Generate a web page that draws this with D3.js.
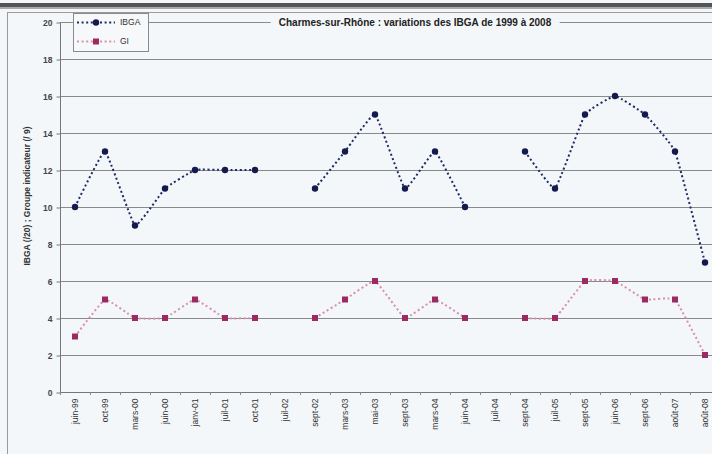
<!DOCTYPE html>
<html><head><meta charset="utf-8">
<script src="https://cdn.jsdelivr.net/npm/d3@7"></script>
<style>html,body{margin:0;padding:0;background:#f4f7f9;overflow:hidden}svg{display:block}</style>
</head><body>
<svg id="c" width="712" height="454"></svg>
<script>
const categories = ["juin-99","oct-99","mars-00","juin-00","janv-01","juil-01","oct-01","juil-02","sept-02","mars-03","mai-03","sept-03","mars-04","juin-04","juil-04","sept-04","juil-05","sept-05","juin-06","sept-06","août-07","août-08"];
const ibga = [10,13,9,11,12,12,12,null,11,13,15,11,13,10,null,13,11,15,16,15,13,7];
const gi = [3,5,4,4,5,4,4,null,4,5,6,4,5,4,null,4,4,6,6,5,5,2];
const yTicks = [0,2,4,6,8,10,12,14,16,18,20];
const titleText = "Charmes-sur-Rhône : variations des IBGA de 1999 à 2008";
const yTitle = "IBGA (/20) ; Groupe indicateur (/ 9)";

const svg = d3.select("#c");
const font = "Arial, 'Liberation Sans', sans-serif";

// top dark bar and outer frame
svg.append("rect").attr("x",0).attr("y",3).attr("width",712).attr("height",4).attr("fill","#555");
svg.append("rect").attr("x",0).attr("y",7).attr("width",712).attr("height",2).attr("fill","#aaa");
svg.append("line").attr("x1",7).attr("x2",712).attr("y1",12.5).attr("y2",12.5).attr("stroke","#9a9a9a");
svg.append("line").attr("x1",7.5).attr("x2",7.5).attr("y1",12).attr("y2",454).attr("stroke","#9a9a9a");

const x = d3.scaleBand().domain(categories).range([60,720]);
const y = d3.scaleLinear().domain([0,20]).range([392,22]);

// gridlines
svg.append("g").selectAll("line").data(yTicks.filter(d=>d>0)).join("line")
  .attr("x1",60).attr("x2",712).attr("y1",d=>y(d)+0.5).attr("y2",d=>y(d)+0.5)
  .attr("stroke","#8a8a8a").attr("stroke-width",1);

// y axis
const ya = svg.append("g").attr("transform","translate(60.5,0.5)")
  .call(d3.axisLeft(y).tickValues(yTicks).tickSize(4).tickPadding(4));
ya.select(".domain").attr("stroke","#777").attr("d","M0,"+y(20)+"V"+y(0));
ya.selectAll(".tick line").attr("stroke","#777");
ya.selectAll("text").attr("font-family",font).attr("font-size",8.5).attr("font-weight","bold").attr("fill","#444");

// x axis
const xa = svg.append("g").attr("transform","translate(0,"+(y(0)+0.5)+")")
  .call(d3.axisBottom(x).tickSize(0).tickPadding(0));
xa.select(".domain").attr("stroke","#777").attr("d","M60,0H720");
xa.selectAll(".tick text")
  .attr("font-family",font).attr("font-size",8.5).attr("fill","#333")
  .attr("transform","rotate(-90)").attr("text-anchor","end")
  .attr("x",-6).attr("y",0).attr("dy","0.35em");
// tick marks between categories
svg.append("g").selectAll("line").data(d3.range(categories.length+1)).join("line")
  .attr("x1",i=>60+i*x.step()+0.5).attr("x2",i=>60+i*x.step()+0.5)
  .attr("y1",y(0)).attr("y2",y(0)+3).attr("stroke","#888");

const cx = d => x(d) + x.bandwidth()/2;

// lines
function drawSeries(vals, lineColor, markColor, shape){
  const data = categories.map((c,i)=>({c, v: vals[i]}));
  const line = d3.line().defined(d=>d.v!=null).x(d=>cx(d.c)).y(d=>y(d.v)).curve(d3.curveCardinal.tension(0.7));
  svg.append("path").datum(data).attr("d",line).attr("fill","none")
    .attr("stroke",lineColor).attr("stroke-width",2).attr("stroke-dasharray","2,2.6");
  const pts = data.filter(d=>d.v!=null);
  if(shape==="circle"){
    svg.append("g").selectAll("circle").data(pts).join("circle")
      .attr("cx",d=>cx(d.c)).attr("cy",d=>y(d.v)).attr("r",3.2).attr("fill",markColor);
  } else {
    svg.append("g").selectAll("rect").data(pts).join("rect")
      .attr("x",d=>cx(d.c)-3).attr("y",d=>y(d.v)-3).attr("width",6).attr("height",6).attr("fill",markColor);
  }
}
drawSeries(gi, "#d98fb0", "#9b2a63", "rect");
drawSeries(ibga, "#1f2a66", "#141a4e", "circle");

// title with background
const tg = svg.append("g");
const tt = tg.append("text").attr("x",415).attr("y",22).attr("dy","0.35em").attr("text-anchor","middle")
  .attr("font-family",font).attr("font-size",10).attr("font-weight","bold").attr("fill","#222").text(titleText);
const bb = tt.node().getBBox();
tg.insert("rect","text").attr("x",bb.x-8).attr("y",bb.y-1).attr("width",bb.width+16).attr("height",bb.height+2).attr("fill","#f4f7f9");

// y title
svg.append("text").attr("transform","translate(27,196) rotate(-90)").attr("text-anchor","middle").attr("dy","0.35em")
  .attr("font-family",font).attr("font-size",8.5).attr("font-weight","bold").attr("fill","#333").text(yTitle);

// legend
const lg = svg.append("g");
lg.append("rect").attr("x",73.5).attr("y",13.5).attr("width",75).attr("height",38).attr("fill","#f6f8fa").attr("stroke","#8a8a8a");
const legendItems = [
  {name:"IBGA", lc:"#1f2a66", mc:"#141a4e", shape:"circle", yy:22.5},
  {name:"GI", lc:"#d98fb0", mc:"#9b2a63", shape:"rect", yy:41.5}
];
legendItems.forEach(it=>{
  lg.append("line").attr("x1",77).attr("x2",115).attr("y1",it.yy).attr("y2",it.yy)
    .attr("stroke",it.lc).attr("stroke-width",2).attr("stroke-dasharray","2,2.6");
  if(it.shape==="circle") lg.append("circle").attr("cx",96).attr("cy",it.yy).attr("r",3.2).attr("fill",it.mc);
  else lg.append("rect").attr("x",93).attr("y",it.yy-3).attr("width",6).attr("height",6).attr("fill",it.mc);
  lg.append("text").attr("x",120).attr("y",it.yy).attr("dy","0.35em").attr("font-family",font).attr("font-size",8.5).attr("fill","#333").text(it.name);
});
</script>
</body></html>
